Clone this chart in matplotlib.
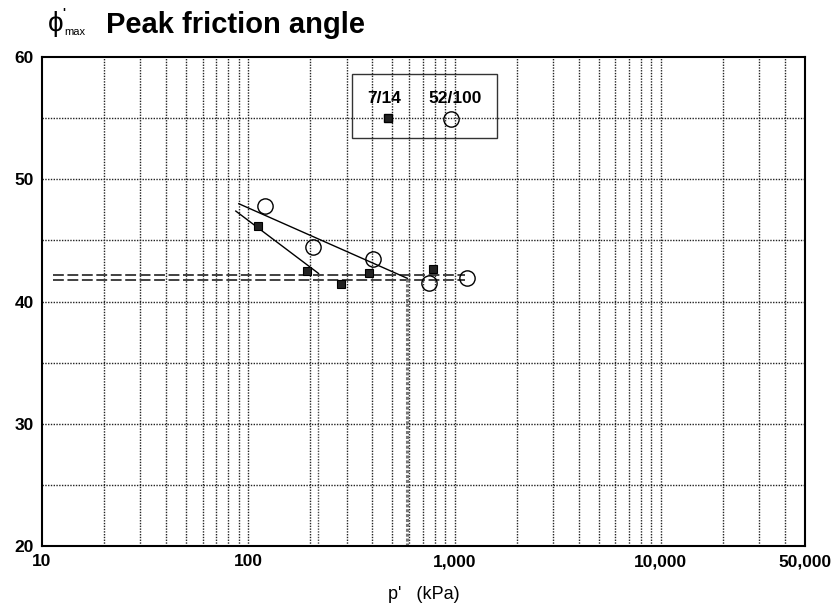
import matplotlib
matplotlib.use('Agg')
import matplotlib.pyplot as plt
from matplotlib.patches import Rectangle

plt.rcParams['font.family'] = ['Liberation Sans', 'DejaVu Sans']

# test results, p' (kPa) vs peak friction angle (deg)
p_7_14 = [112, 193, 280, 383, 782]
phi_7_14 = [46.2, 42.5, 41.4, 42.3, 42.7]
p_52_100 = [121, 207, 404, 748, 1143]
phi_52_100 = [47.8, 44.5, 43.5, 41.5, 41.9]

# fitted trend lines
fit_7_14_p = [87, 219]
fit_7_14_phi = [47.4, 42.3]
fit_52_100_p = [90, 590]
fit_52_100_phi = [48.0, 41.9]

# constant-volume levels (dashed)
cv_p = [11.3, 1120]
cv_phi_7_14 = [42.2, 42.2]
cv_phi_52_100 = [41.8, 41.8]

xticks = [10, 100, 1000, 10000, 50000]
xticklabels = ['10', '100', '1,000', '10,000', '50,000']
yticks = [20, 30, 40, 50, 60]

fig = plt.figure(figsize=(8.32, 6.07), dpi=100)
ax = fig.add_axes([0.0505, 0.1005, 0.917, 0.8055])
ax.set_xscale('log')
ax.set_xlim(10, 50000)
ax.set_ylim(20, 60)

# grid
minor_x = [m * 10 ** d for d in range(1, 5) for m in range(1, 10) if m * 10 ** d <= 50000]
for xv in minor_x[1:]:
    ax.axvline(xv, color='#222222', lw=1.0, ls=(0, (1, 1)), zorder=1)
for yv in range(25, 60, 5):
    ax.axhline(yv, color='#222222', lw=1.0, ls=(0, (1, 1)), zorder=1)

# dashed cv lines
ax.plot(cv_p, cv_phi_7_14, color='#333333', lw=1.3, dashes=(6, 2), zorder=2)
ax.plot(cv_p, cv_phi_52_100, color='#333333', lw=1.3, dashes=(6, 2), zorder=2)

# trend lines and drop lines
ax.plot(fit_7_14_p, fit_7_14_phi, color='black', lw=1.0, zorder=3)
ax.plot(fit_52_100_p, fit_52_100_phi, color='black', lw=1.0, zorder=3)
ax.plot([fit_7_14_p[1], fit_7_14_p[1]], [20, fit_7_14_phi[1]], color='#444444', lw=1.0, ls=(0, (1, 1)), zorder=2)
ax.plot([fit_52_100_p[1], fit_52_100_p[1]], [20, fit_52_100_phi[1]], color='#777777', lw=2.2, ls=(0, (1, 0.6)), zorder=2)

# data
ax.plot(p_7_14, phi_7_14, 's', ms=5.5, mfc='#222222', mec='black', mew=0.8, zorder=4)
ax.plot(p_52_100, phi_52_100, 'o', ms=11, mfc='none', mec='black', mew=1.0, zorder=4)

# legend box drawn by hand (labels above markers)
ax.add_patch(Rectangle((0.406, 0.834), 0.19, 0.131, transform=ax.transAxes,
                       fill=False, ec='#333333', lw=1.0, zorder=5))
ax.plot([0.453], [0.875], 's', ms=5.5, mfc='#222222', mec='black', transform=ax.transAxes, zorder=6)
ax.plot([0.536], [0.873], 'o', ms=11, mfc='none', mec='black', transform=ax.transAxes, zorder=6)
ax.text(0.449, 0.915, '7/14', transform=ax.transAxes, ha='center', va='center',
        fontsize=12.5, fontweight='bold')
ax.text(0.541, 0.915, '52/100', transform=ax.transAxes, ha='center', va='center',
        fontsize=12.5, fontweight='bold')

ax.set_xticks(xticks)
ax.set_xticklabels(xticklabels)
ax.set_yticks(yticks)
ax.xaxis.set_minor_locator(matplotlib.ticker.NullLocator())
ax.tick_params(axis='both', length=0, labelsize=12.5, pad=6)
for lbl in ax.get_xticklabels() + ax.get_yticklabels():
    lbl.set_fontweight('bold')
for sp in ax.spines.values():
    sp.set_linewidth(1.5)

ax.set_xlabel("p'   (kPa)", fontsize=13, labelpad=12)

# title with phi'_max symbol
fig.text(0.057, 0.961, '\u03d5', fontsize=20, ha='left', va='center')
fig.text(0.0748, 0.977, "'", fontsize=9, fontweight='bold', ha='left', va='center')
fig.text(0.077, 0.948, 'max', fontsize=8, ha='left', va='center')
fig.text(0.128, 0.959, 'Peak friction angle', fontsize=21, fontweight='bold',
         ha='left', va='center')

fig.savefig('out.png', dpi=100)
